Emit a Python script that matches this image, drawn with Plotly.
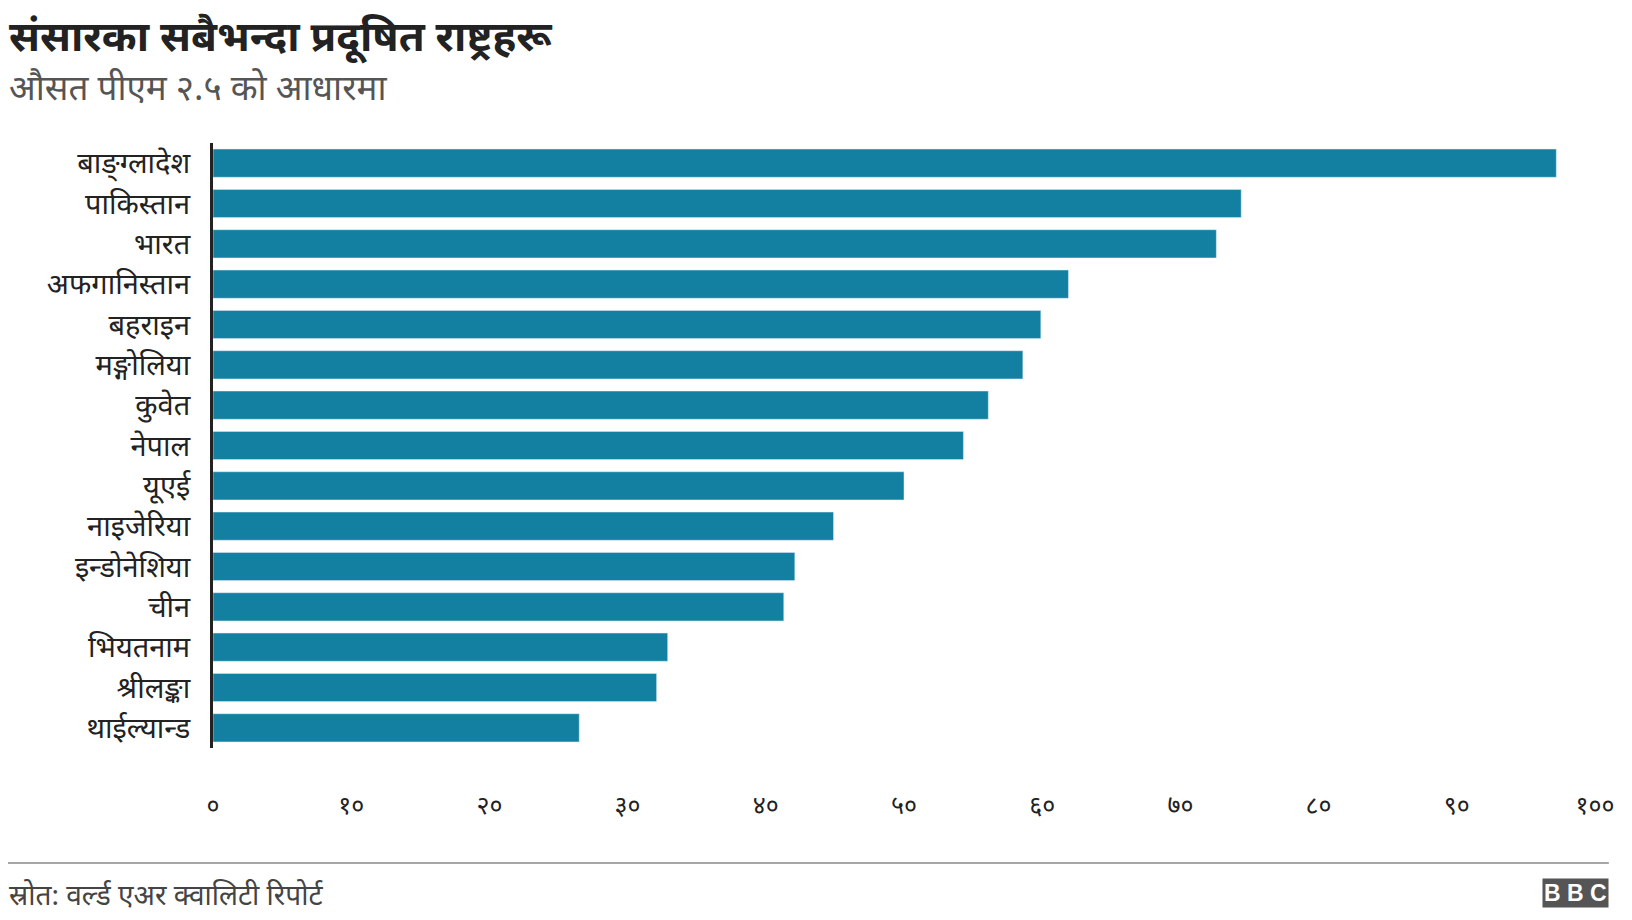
import plotly.graph_objects as go

countries = ["बाङ्ग्लादेश", "पाकिस्तान", "भारत", "अफगानिस्तान", "बहराइन", "मङ्गोलिया",
             "कुवेत", "नेपाल", "यूएई", "नाइजेरिया", "इन्डोनेशिया", "चीन",
             "भियतनाम", "श्रीलङ्का", "थाईल्यान्ड"]
pm25 = [97.2, 74.4, 72.6, 61.9, 59.9, 58.6, 56.1, 54.3, 50.0, 44.9, 42.1, 41.3, 32.9, 32.1, 26.5]
tick_vals = [0, 10, 20, 30, 40, 50, 60, 70, 80, 90, 100]
tick_text = ["०", "१०", "२०", "३०", "४०", "५०", "६०", "७०", "८०", "९०", "१००"]

font = "Noto Sans, Noto Sans Devanagari, sans-serif"

fig = go.Figure(go.Bar(
    x=pm25, y=countries, orientation="h",
    marker_color="#1380A1", width=0.7, hoverinfo="x+y"))

fig.update_layout(
    width=1632, height=920,
    paper_bgcolor="white", plot_bgcolor="white",
    margin=dict(l=205, r=45, t=135, b=180, pad=0),
    font=dict(family=font, size=29, color="#222222"),
    showlegend=False,
    xaxis=dict(range=[0, 100], tickvals=tick_vals, ticktext=tick_text,
               showgrid=False, zeroline=False, ticks="", ticklabelstandoff=40,
               tickfont=dict(size=25)),
    yaxis=dict(autorange="reversed", showline=True, linecolor="#222222", linewidth=3,
               ticks="", ticklabelstandoff=14, tickfont=dict(size=29)),
    shapes=[dict(type="line", xref="paper", yref="paper", x0=-0.15, x1=1.01,
                 y0=-0.19, y1=-0.19, line=dict(color="#888888", width=1.5))],
    annotations=[
        dict(text="<b>संसारका सबैभन्दा प्रदूषित राष्ट्रहरू</b>", xref="paper", yref="paper",
             x=-0.149, y=1.23, xanchor="left", yanchor="top", showarrow=False,
             font=dict(size=42, color="#222222")),
        dict(text="औसत पीएम २.५ को आधारमा", xref="paper", yref="paper",
             x=-0.149, y=1.135, xanchor="left", yanchor="top", showarrow=False,
             font=dict(size=35, color="#555555")),
        dict(text="स्रोत: वर्ल्ड एअर क्वालिटी रिपोर्ट", xref="paper", yref="paper",
             x=-0.149, y=-0.207, xanchor="left", yanchor="top", showarrow=False,
             font=dict(size=28, color="#444444")),
        dict(text="<b>B B C</b>", xref="paper", yref="paper",
             x=1.01, y=-0.215, xanchor="right", yanchor="top", showarrow=False,
             font=dict(family="Liberation Sans", size=23, color="white"),
             bgcolor="#555555"),
    ],
)

fig.write_html("out.html")
